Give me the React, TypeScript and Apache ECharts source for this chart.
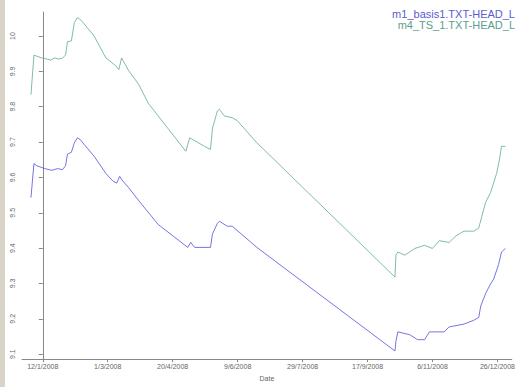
import React, { useEffect, useRef } from "react";
import * as echarts from "echarts";

// x = days since 12/1/2008
const xTickDays = [0, 50, 100, 150, 200, 250, 300, 350];
const xTickLabels = ["12/1/2008", "1/3/2008", "20/4/2008", "9/6/2008", "29/7/2008", "17/9/2008", "6/11/2008", "26/12/2008"];
const yTicks = [9.1, 9.2, 9.3, 9.4, 9.5, 9.6, 9.7, 9.8, 9.9, 10.0];

const tsDays = [-9.1, -6.8, -4.6, -0.8, 3.0, 6.1, 9.1, 12.1, 15.2, 17.5, 19.0, 22.0, 24.3, 26.6, 28.1, 30.4, 39.5, 48.6, 56.2, 58.5, 60.7, 66.1, 73.7, 81.2, 88.8, 110.1, 113.1, 124.5, 129.1, 130.6, 134.4, 135.9, 139.7, 145.8, 149.6, 164.8, 271.1, 271.8, 273.3, 278.7, 286.3, 293.9, 299.9, 305.2, 312.8, 318.1, 324.2, 331.8, 335.6, 337.9, 340.9, 344.7, 347.0, 349.3, 351.6, 353.1, 356.1];
const tsValues = [9.834, 9.946, 9.943, 9.938, 9.935, 9.932, 9.938, 9.935, 9.938, 9.946, 9.984, 9.986, 10.038, 10.052, 10.049, 10.041, 10.0, 9.938, 9.916, 9.905, 9.938, 9.902, 9.864, 9.81, 9.774, 9.674, 9.712, 9.688, 9.679, 9.739, 9.788, 9.793, 9.774, 9.769, 9.761, 9.698, 9.318, 9.38, 9.389, 9.38, 9.399, 9.408, 9.399, 9.421, 9.416, 9.435, 9.448, 9.448, 9.457, 9.489, 9.53, 9.557, 9.584, 9.611, 9.652, 9.688, 9.688];

const basisDays = [-9.1, -6.8, -4.6, 1.5, 6.8, 11.4, 15.2, 17.5, 19.0, 22.0, 24.3, 26.6, 28.9, 31.9, 39.5, 48.6, 53.9, 56.9, 59.2, 61.5, 66.1, 73.7, 88.8, 111.6, 113.9, 116.9, 129.1, 130.6, 134.4, 135.9, 142.0, 145.8, 164.8, 271.1, 271.8, 273.3, 282.5, 288.5, 293.9, 297.6, 309.0, 312.8, 324.2, 331.8, 335.6, 337.1, 340.9, 344.7, 347.0, 350.8, 353.1, 356.1];
const basisValues = [9.543, 9.639, 9.633, 9.625, 9.62, 9.625, 9.622, 9.633, 9.666, 9.671, 9.698, 9.712, 9.707, 9.693, 9.66, 9.611, 9.59, 9.584, 9.603, 9.59, 9.571, 9.535, 9.467, 9.402, 9.416, 9.402, 9.402, 9.44, 9.47, 9.476, 9.462, 9.462, 9.402, 9.109, 9.136, 9.163, 9.155, 9.141, 9.141, 9.163, 9.163, 9.177, 9.185, 9.196, 9.204, 9.236, 9.272, 9.299, 9.312, 9.353, 9.389, 9.399];

const seriesNames = ["m1_basis1.TXT-HEAD_L", "m4_TS_1.TXT-HEAD_L"];
const lineColors = ["#5252de", "#62a898"];
const textColors = ["#5c5cd2", "#5a9e90"];

function zip(xs: number[], ys: number[]) {
  return xs.map((x, i) => [x, ys[i]]);
}

export default function App() {
  const ref = useRef<HTMLDivElement>(null);
  useEffect(() => {
    if (!ref.current) return;
    const chart = echarts.init(ref.current, undefined, { renderer: "svg" });
    const axisColor = "#888";
    chart.setOption({
      animation: false,
      backgroundColor: "#ffffff",
      grid: { left: 22, right: 0, top: 12, bottom: 14, containLabel: false },
      xAxis: {
        type: "value",
        min: -16,
        max: 361,
        name: "Date",
        nameLocation: "middle",
        nameGap: 12,
        nameTextStyle: { fontSize: 7, color: "#666", fontFamily: "Liberation Sans" },
        axisLine: { lineStyle: { color: axisColor, width: 1 } },
        axisTick: { customValues: xTickDays, length: 3, lineStyle: { color: axisColor } },
        axisLabel: {
          customValues: xTickDays,
          fontSize: 7,
          color: "#666",
          margin: 4,
          fontFamily: "Liberation Sans",
          formatter: (v: number) => {
            const i = xTickDays.indexOf(Math.round(v));
            return i >= 0 ? xTickLabels[i] : "";
          },
        },
        splitLine: { show: false },
      },
      yAxis: {
        type: "value",
        min: 9.086,
        max: 10.068,
        axisLine: { show: true, lineStyle: { color: axisColor, width: 1 } },
        axisTick: { show: true, customValues: yTicks, length: 4, lineStyle: { color: axisColor } },
        axisLabel: {
          customValues: yTicks,
          rotate: 90,
          fontSize: 7,
          color: "#666",
          margin: 6,
          fontFamily: "Liberation Sans",
          formatter: (v: number) => (Math.abs(v - 10) < 1e-6 ? "10" : v.toFixed(1)),
        },
        splitLine: { show: false },
      },
      graphic: [
        { type: "rect", left: 0, top: 0, shape: { width: 5, height: 387 }, style: { fill: "#dad3c7" }, silent: true },
        {
          type: "text",
          x: 515,
          y: 14,
          style: { text: seriesNames[0], fill: textColors[0], font: '11px "Liberation Sans"', textAlign: "right", textVerticalAlign: "middle" },
        },
        {
          type: "text",
          x: 515,
          y: 25,
          style: { text: seriesNames[1], fill: textColors[1], font: '11px "Liberation Sans"', textAlign: "right", textVerticalAlign: "middle" },
        },
      ],
      series: [
        {
          name: seriesNames[0],
          type: "line",
          data: zip(basisDays, basisValues),
          showSymbol: false,
          symbol: "none",
          lineStyle: { color: lineColors[0], width: 0.8 },
          itemStyle: { color: lineColors[0] },
        },
        {
          name: seriesNames[1],
          type: "line",
          data: zip(tsDays, tsValues),
          showSymbol: false,
          symbol: "none",
          lineStyle: { color: lineColors[1], width: 0.8 },
          itemStyle: { color: lineColors[1] },
        },
      ],
    });
    return () => chart.dispose();
  }, []);
  return <div ref={ref} style={{ position: "fixed", left: 0, top: 0, width: 518, height: 387 }} />;
}
